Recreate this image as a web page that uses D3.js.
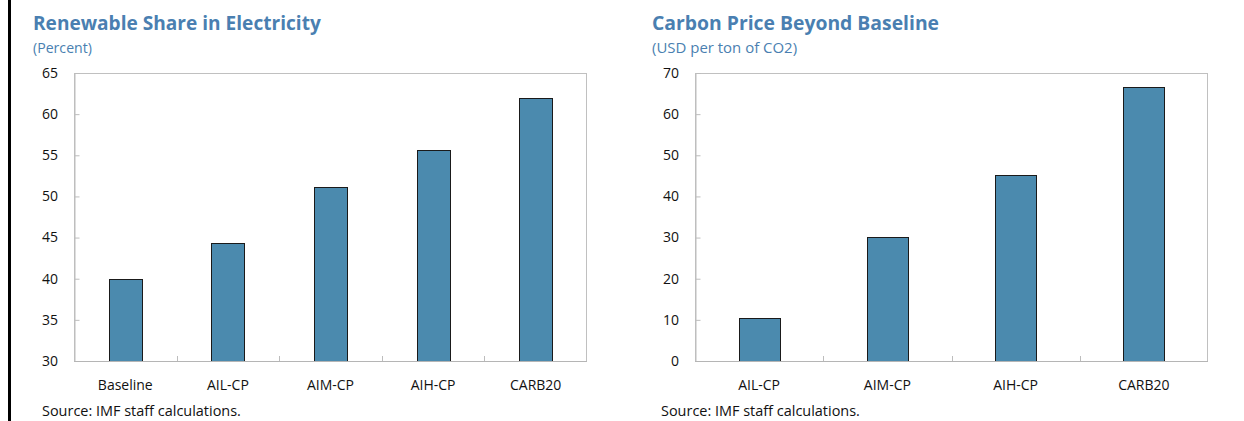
<!DOCTYPE html>
<html><head><meta charset="utf-8">
<script src="https://cdn.jsdelivr.net/npm/d3@7"></script>
<style>
html,body{margin:0;padding:0;background:#fff;}
svg{display:block;font-family:"Open Sans","Noto Sans",sans-serif;}
</style></head>
<body>
<svg id="c" width="1244" height="421"></svg>
<script>
// ---- data ----
const renewCategories = ["Baseline","AIL-CP","AIM-CP","AIH-CP","CARB20"];
const renewValues = [40.0, 44.3, 51.1, 55.6, 62.0];
const renewTicks = [30,35,40,45,50,55,60,65];

const carbonCategories = ["AIL-CP","AIM-CP","AIH-CP","CARB20"];
const carbonValues = [10.5, 30.1, 45.1, 66.6];
const carbonTicks = [0,10,20,30,40,50,60,70];

const titles = ["Renewable Share in Electricity","Carbon Price Beyond Baseline"];
const subtitles = ["(Percent)","(USD per ton of CO2)"];
const sourceNote = "Source: IMF staff calculations.";

// ---- drawing ----
const svg = d3.select("#c");
const titleColor = "#4a7fb1";
const barColor = "#4b8aae";

svg.append("rect").attr("x",8).attr("y",0).attr("width",3).attr("height",421).attr("fill","#000");

function fitText(sel, target){
  const node = sel.node();
  let fs = parseFloat(sel.attr("font-size"));
  for(let i=0;i<3;i++){
    const w = node.getComputedTextLength();
    if(w>0){ fs = fs*target/w; sel.attr("font-size", fs.toFixed(2)); }
  }
}

function panel(cfg){
  const g = svg.append("g");
  const t = g.append("text").attr("x",cfg.tx).attr("y",30).attr("font-size",17).attr("font-weight","bold")
    .attr("fill",titleColor).text(cfg.title);
  fitText(t, cfg.titleW);
  const st = g.append("text").attr("x",cfg.tx).attr("y",53).attr("font-size",13)
    .attr("fill",titleColor).text(cfg.subtitle);
  fitText(st, cfg.subW);

  const x = d3.scaleBand().domain(cfg.cats).range([cfg.x0,cfg.x1]).paddingInner(0.68).paddingOuter(0.34);
  const y = d3.scaleLinear().domain(cfg.domain).range([361,73]);

  // frame
  g.append("rect").attr("x",cfg.x0+0.5).attr("y",73.5).attr("width",cfg.x1-cfg.x0-1).attr("height",288)
    .attr("fill","none").attr("stroke","#c0c0c0").attr("stroke-width",1);

  // y axis
  const ya = g.append("g").attr("transform",`translate(${cfg.x0+0.5},0)`)
    .call(d3.axisRight(y).tickValues(cfg.ticks).tickSize(5).tickFormat(""));
  ya.select(".domain").attr("stroke","#bdbdbd");
  ya.selectAll(".tick line").attr("stroke","#bdbdbd");
  g.append("g").selectAll("text").data(cfg.ticks).join("text")
    .attr("x",cfg.x0-16).attr("y",d=>y(d)).attr("dy","0.35em").attr("text-anchor","end")
    .attr("font-size",14).attr("fill","#111").text(d=>d);

  // bars
  g.append("g").selectAll("rect").data(cfg.vals).join("rect")
    .attr("x",(d,i)=>Math.round(x(cfg.cats[i]))+0.5)
    .attr("width",Math.round(x.bandwidth()))
    .attr("y",d=>Math.round(y(d))+0.5)
    .attr("height",d=>361-Math.round(y(d)))
    .attr("fill",barColor).attr("stroke","#1a1a1a").attr("stroke-width",1);

  // x axis
  const step = x.step();
  const bounds = cfg.cats.slice(1).map((c,i)=>x(c)-x.bandwidth()*0 - (step - x.bandwidth())/2);
  g.append("g").selectAll("line").data(bounds).join("line")
    .attr("x1",d=>Math.round(d)+0.5).attr("x2",d=>Math.round(d)+0.5).attr("y1",361).attr("y2",356)
    .attr("stroke","#bdbdbd");
  g.append("line").attr("x1",cfg.x0).attr("x2",cfg.x1).attr("y1",361.5).attr("y2",361.5).attr("stroke","#b5b5b5");
  g.append("g").selectAll("text").data(cfg.cats).join("text")
    .attr("x",d=>x(d)+x.bandwidth()/2).attr("y",390).attr("text-anchor","middle")
    .attr("font-size",14).attr("fill","#111").text(d=>d);

  const s = g.append("text").attr("x",cfg.sx).attr("y",416).attr("font-size",13).attr("fill","#111").text(sourceNote);
  fitText(s, 199);
}

panel({title:titles[0],subtitle:subtitles[0],tx:33,titleW:288,subW:59,cats:renewCategories,vals:renewValues,
  domain:[30,65],ticks:renewTicks,x0:74,x1:587,sx:42});
panel({title:titles[1],subtitle:subtitles[1],tx:652,titleW:287,subW:145,cats:carbonCategories,vals:carbonValues,
  domain:[0,70],ticks:carbonTicks,x0:695,x1:1208,sx:661});
</script>
</body></html>
